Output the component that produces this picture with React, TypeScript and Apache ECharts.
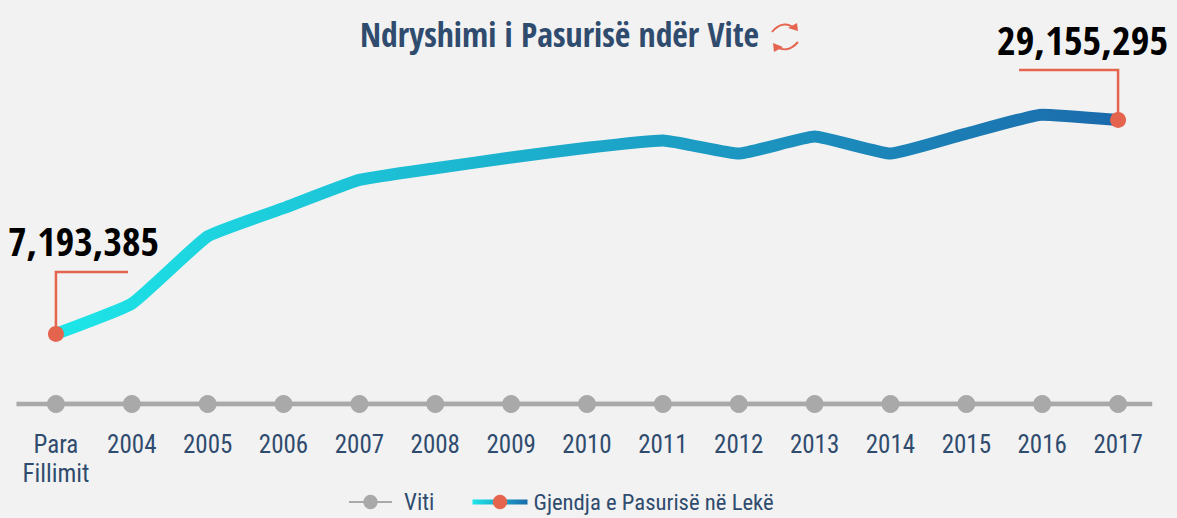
import React, { useEffect, useRef } from "react";
import * as echarts from "echarts";

const categories = ["Para\nFillimit", "2004", "2005", "2006", "2007", "2008", "2009", "2010", "2011", "2012", "2013", "2014", "2015", "2016", "2017"];
const wealth = [7193385, 10300000, 17200000, 20100000, 23000000, 24200000, 25300000, 26300000, 27050000, 25700000, 27450000, 25700000, 27750000, 29700000, 29155295];
const years = categories.map(() => 0);
const baselineEnds = [[-0.52, 0], [14.45, 0]];
const callouts = [
  { index: 0, value: 7193385, text: "7,193,385" },
  { index: 14, value: 29155295, text: "29,155,295" },
];

const BOLD = '"Open Sans Condensed", "Roboto Condensed", sans-serif';
const FONT = '"Roboto Condensed", "Open Sans Condensed", sans-serif';
const NAVY = "#2f4b6e";
const RED = "#e5644e";
const GREY = "#a9a9a9";
const GRID_H = 341;
const START = "#1de6e8";
const END = "#1b6aab";

export default function App() {
  const ref = useRef<HTMLDivElement>(null);
  useEffect(() => {
    document.body.style.margin = "0";
    document.body.style.background = "#f2f2f2";
    const chart = echarts.init(ref.current!, null, { renderer: "svg" });
    const stops = [
      { offset: 0, color: START },
      { offset: 1, color: END },
    ];
    chart.setOption({
      animation: false,
      backgroundColor: "#f2f2f2",
      textStyle: { fontFamily: FONT },
      title: {
        text: "Ndryshimi i Pasurisë ndër Vite",
        left: 355,
        top: 12,
        textStyle: { fontFamily: BOLD, fontSize: 33.7, fontWeight: "bold", color: NAVY },
      },
      graphic: [
        { type: "bezierCurve", shape: { x1: 772, y1: 32, x2: 795, y2: 29, cpx1: 780, cpy1: 22, cpx2: 789, cpy2: 23 }, style: { stroke: RED, lineWidth: 2, fill: "none" } },
        { type: "polygon", shape: { points: [[798, 31], [788, 28], [797, 23]] }, style: { fill: RED } },
        { type: "bezierCurve", shape: { x1: 798, y1: 42, x2: 776, y2: 46, cpx1: 790, cpy1: 51, cpx2: 782, cpy2: 51 }, style: { stroke: RED, lineWidth: 2, fill: "none" } },
        { type: "polygon", shape: { points: [[773, 43], [783, 47], [774, 52]] }, style: { fill: RED } },
      ],
      legend: [
        {
          data: ["Viti"],
          left: 343,
          top: 483,
          itemWidth: 43,
          itemHeight: 18,
          textStyle: { fontFamily: FONT, fontSize: 23, lineHeight: 28, color: NAVY, padding: [0, 0, 0, 7] },
        },
        {
          data: ["Gjendja e Pasurisë në Lekë"],
          left: 465,
          top: 483,
          itemWidth: 55,
          itemHeight: 18,
          lineStyle: { color: new echarts.graphic.LinearGradient(0, 0, 55, 0, stops, true), width: 5, cap: "butt" },
          textStyle: { fontFamily: FONT, fontSize: 22.7, lineHeight: 28, color: NAVY, padding: [0, 0, 0, 1] },
        },
      ],
      grid: { left: 18, right: 21, top: 404 - GRID_H, height: GRID_H },
      xAxis: [
        {
          type: "category",
          data: categories,
          axisLine: { show: false },
          axisTick: { show: false },
          axisLabel: { margin: 26, interval: 0, fontFamily: FONT, fontSize: 25, lineHeight: 29, color: NAVY },
        },
        { type: "value", min: -0.5, max: 14.5, show: false },
      ],
      yAxis: { type: "value", min: 0, max: 35000000, show: false },
      series: [
        {
          name: "baseline",
          type: "line",
          xAxisIndex: 1,
          data: baselineEnds,
          symbol: "none",
          silent: true,
          clip: false,
          z: 1,
          lineStyle: { color: GREY, width: 4.5 },
        },
        {
          name: "Viti",
          type: "line",
          data: years,
          symbol: "circle",
          symbolSize: 18,
          z: 2,
          itemStyle: { color: GREY },
          lineStyle: { color: GREY, width: 4.5 },
        },
        {
          name: "Gjendja e Pasurisë në Lekë",
          type: "line",
          smooth: 0.12,
          z: 3,
          symbol: "circle",
          symbolSize: 16,
          showAllSymbol: true,
          data: wealth.map((v, i) =>
            i === 0 || i === wealth.length - 1 ? { value: v } : { value: v, symbol: "none" }
          ),
          itemStyle: { color: RED },
          lineStyle: { color: new echarts.graphic.LinearGradient(0, 0, 1, 0, stops), width: 12, cap: "round", join: "round" },
        },
        {
          name: "callouts",
          type: "custom",
          z: 2,
          clip: false,
          silent: true,
          data: callouts.map((c) => [c.index, c.value, c.text]),
          renderItem: (params: any, api: any) => {
            const p = api.coord([api.value(0), api.value(1)]);
            const c = callouts[params.dataIndex];
            const first = c.index === 0;
            const hy = first ? p[1] - 62 : p[1] - 50;
            const hx = first ? p[0] + 72 : p[0] - 99;
            return {
              type: "group",
              children: [
                {
                  type: "polyline",
                  shape: { points: [[p[0], p[1]], [p[0], hy], [hx, hy]] },
                  style: { stroke: RED, lineWidth: 2.5, fill: "none" },
                },
                {
                  type: "text",
                  style: {
                    text: c.text,
                    x: first ? p[0] - 48 : p[0] - 121,
                    y: first ? hy - 51 : hy - 50,
                    fontFamily: BOLD,
                    fontSize: first ? 40 : 40.3,
                    fontWeight: "bold",
                    fill: "#000000",
                  },
                },
              ],
            };
          },
        },
      ],
    });
    return () => chart.dispose();
  }, []);
  return <div ref={ref} style={{ width: 1177, height: 518 }} />;
}
